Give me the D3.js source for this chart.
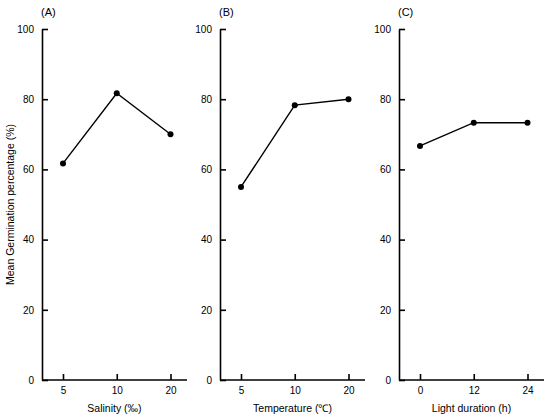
<!DOCTYPE html>
<html lang="en">
<head>
    <meta charset="UTF-8">
    <title>Mean germination percentage</title>
    <script src="https://d3js.org/d3.v7.min.js"></script>
    <style>
        body { margin: 0; background: #fff; }
        svg text { font-family: "Liberation Sans", Arial, sans-serif; fill: #000; }
    </style>
</head>
<body>
    <svg id="chart" width="550" height="419"></svg>
    <script>
        // data
        const salinityLevels = ["5", "10", "20"];
        const salinityGermination = [61.7, 81.7, 70.0];

        const temperatureLevels = ["5", "10", "20"];
        const temperatureGermination = [55.0, 78.3, 80.0];

        const lightLevels = ["0", "12", "24"];
        const lightGermination = [66.7, 73.3, 73.3];

        const yTicks = [0, 20, 40, 60, 80, 100];
        const panelTitles = ["(A)", "(B)", "(C)"];
        const xTitles = ["Salinity (‰)", "Temperature (℃)", "Light duration (h)"];
        const yTitle = "Mean Germination percentage (%)";

        const panels = [
            { cats: salinityLevels, vals: salinityGermination },
            { cats: temperatureLevels, vals: temperatureGermination },
            { cats: lightLevels, vals: lightGermination }
        ];

        const svg = d3.select("#chart");
        const panelLeft = [42, 220, 399];
        const plotTop = 29, plotBottom = 380, axisWidth = 145;

        const y = d3.scaleLinear().domain([0, 100]).range([plotBottom, plotTop]);

        panels.forEach(function (p, i) {
            const g = svg.append("g").attr("transform", "translate(" + panelLeft[i] + ",0)");

            const x = d3.scalePoint()
                .domain(p.cats)
                .range([21, 128.5]);

            // y axis, ticks pointing inward
            const yAxis = g.append("g")
                .call(d3.axisLeft(y).tickValues(yTicks).tickSizeInner(-6).tickSizeOuter(0).tickPadding(8));
            yAxis.selectAll("text").style("font-size", "10px");

            // x axis, ticks pointing up
            const xAxis = g.append("g")
                .attr("transform", "translate(0," + plotBottom + ")")
                .call(d3.axisBottom(x).tickSizeInner(-6).tickSizeOuter(0).tickPadding(7));
            xAxis.select(".domain").attr("d", "M0,0H" + axisWidth);
            xAxis.selectAll("text").style("font-size", "10px");

            g.selectAll(".domain, .tick line")
                .attr("stroke", "#000")
                .attr("stroke-width", 1.6);

            const line = d3.line()
                .x(function (d, j) { return x(p.cats[j]); })
                .y(function (d) { return y(d); });

            g.append("path")
                .datum(p.vals)
                .attr("d", line)
                .attr("fill", "none")
                .attr("stroke", "#000")
                .attr("stroke-width", 1.4);

            g.selectAll("circle")
                .data(p.vals)
                .enter()
                .append("circle")
                .attr("cx", function (d, j) { return x(p.cats[j]); })
                .attr("cy", function (d) { return y(d); })
                .attr("r", 3)
                .attr("fill", "#000");

            g.append("text")
                .attr("x", -1)
                .attr("y", 16)
                .style("font-size", "11px")
                .text(panelTitles[i]);

            g.append("text")
                .attr("x", axisWidth / 2)
                .attr("y", 412)
                .attr("text-anchor", "middle")
                .style("font-size", "10.5px")
                .text(xTitles[i]);
        });

        svg.append("text")
            .attr("transform", "translate(14," + ((plotTop + plotBottom) / 2) + ") rotate(-90)")
            .attr("text-anchor", "middle")
            .style("font-size", "10.5px")
            .text(yTitle);
    </script>
</body>
</html>
